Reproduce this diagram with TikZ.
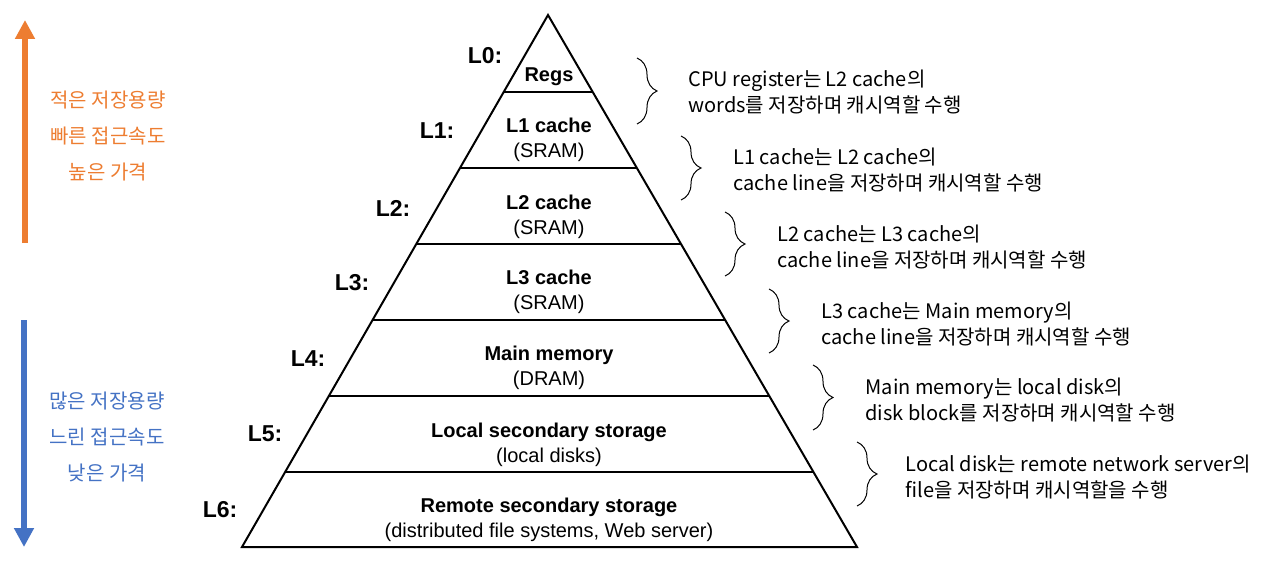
\documentclass[tikz,border=0pt]{standalone}
\usepackage{fontspec}
\setmainfont{Liberation Sans}
\newfontfamily\kr{Noto Sans CJK KR}
\usetikzlibrary{arrows.meta, positioning, calc, decorations.pathreplacing}
\definecolor{fastcol}{HTML}{ED7D31}
\definecolor{slowcol}{HTML}{4472C4}

\begin{document}
\begin{tikzpicture}[
    x=1pt, y=-1pt,
    lvl/.style={font=\fontsize{23}{23}\selectfont\bfseries},
    tier/.style={align=center, font=\fontsize{20}{25}\selectfont},
    note/.style={anchor=west, align=left, font=\kr\fontsize{20}{26}\selectfont},
    side/.style={align=center, font=\kr\fontsize{20}{36}\selectfont},
    cbrace/.style={decorate, decoration={brace, amplitude=20pt}, line width=1pt},
    bigarrow/.style={line width=5.5pt, -{Triangle[length=19pt, width=19pt]}},
]
    \useasboundingbox (0,0) rectangle (1280,567);

    % pyramid
    \coordinate (top) at (548,15);
    \coordinate (bl)  at (242,547);
    \coordinate (br)  at (857,547);
    \draw[line width=2pt, line join=miter] (top) -- (bl) -- (br) -- cycle;
    \foreach \t in {0.1447, 0.2876, 0.4305, 0.5733, 0.7162, 0.8590}
        \draw[line width=2pt] ($(top)!\t!(bl)$) -- ($(top)!\t!(br)$);

    % tiers
    \node[tier] (regs)   at (549,77)    {\textbf{Regs}};
    \node[tier] (l1c)    at (549,139.5) {\textbf{L1 cache}\\(SRAM)};
    \node[tier] (l2c)    at (549,217)   {\textbf{L2 cache}\\(SRAM)};
    \node[tier] (l3c)    at (549,291.5) {\textbf{L3 cache}\\(SRAM)};
    \node[tier] (mem)    at (549,368)   {\textbf{Main memory}\\(DRAM)};
    \node[tier] (local)  at (549,444.5) {\textbf{Local secondary storage}\\(local disks)};
    \node[tier] (remote) at (549,520)   {\textbf{Remote secondary storage}\\(distributed file systems, Web server)};

    % level labels
    \node[lvl] (lv0) at (485,56)  {L0:};
    \node[lvl] (lv1) at (437,131) {L1:};
    \node[lvl] (lv2) at (393,208) {L2:};
    \node[lvl] (lv3) at (352,283) {L3:};
    \node[lvl] (lv4) at (308,359) {L4:};
    \node[lvl] (lv5) at (265,434) {L5:};
    \node[lvl] (lv6) at (220,510) {L6:};

    % braces and notes
    \draw[cbrace] (637,58)  -- (637,124);
    \draw[cbrace] (681,136) -- (681,200);
    \draw[cbrace] (725,212) -- (725,276);
    \draw[cbrace] (769,289) -- (769,353);
    \draw[cbrace] (813,365) -- (813,430);
    \draw[cbrace] (857,442) -- (857,506);

    \node[note] (n0) at (685,92)    {CPU register는 L2 cache의\\words를 저장하며 캐시역할 수행};
    \node[note] (n1) at (730,170.5) {L1 cache는 L2 cache의\\cache line을 저장하며 캐시역할 수행};
    \node[note] (n2) at (774,247.5) {L2 cache는 L3 cache의\\cache line을 저장하며 캐시역할 수행};
    \node[note] (n3) at (818,324)   {L3 cache는 Main memory의\\cache line을 저장하며 캐시역할 수행};
    \node[note] (n4) at (862,400)   {Main memory는 local disk의\\disk block를 저장하며 캐시역할 수행};
    \node[note] (n5) at (902,477.5) {Local disk는 remote network server의\\file을 저장하며 캐시역할을 수행};

    % speed / size arrows
    \coordinate (upfrom) at (25,243);
    \coordinate (upto)   at (25,20);
    \coordinate (dnfrom) at (24,320);
    \coordinate (dnto)   at (24,547);
    \draw[bigarrow, fastcol] (upfrom) -- (upto);
    \draw[bigarrow, slowcol] (dnfrom) -- (dnto);

    \node[side, text=fastcol] (fast) at (108,136) {적은 저장용량\\빠른 접근속도\\높은 가격};
    \node[side, text=slowcol] (slow) at (107,437) {많은 저장용량\\느린 접근속도\\낮은 가격};
\end{tikzpicture}
\end{document}
